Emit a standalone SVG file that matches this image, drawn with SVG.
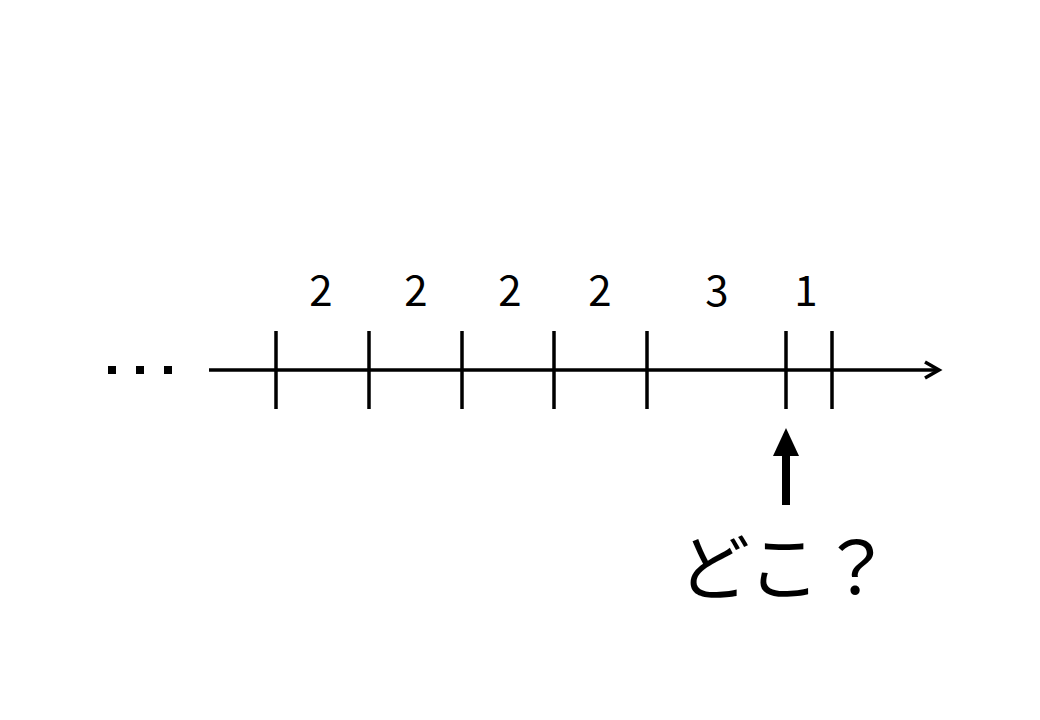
<svg xmlns="http://www.w3.org/2000/svg" width="1040" height="720" viewBox="0 0 1040 720">
<style>
.ln{stroke:#000;stroke-width:3.5;fill:none}
.num{font-family:"Noto Sans CJK JP","Noto Sans",sans-serif;font-size:42px;fill:#000;text-anchor:middle}
.q{font-family:"Noto Sans CJK JP","Noto Sans",sans-serif;font-size:72px;fill:#000;text-anchor:middle}
</style>
<defs>
<marker id="open" viewBox="0 0 20 20" refX="16" refY="10" markerWidth="20" markerHeight="20" markerUnits="userSpaceOnUse" orient="auto">
<path d="M2,2 L16,10 L2,18" fill="none" stroke="#000" stroke-width="3.5"/>
</marker>
</defs>
<rect width="1040" height="720" fill="#fff"/>
<g id="dots" fill="#000">
<rect x="108" y="366" width="8" height="8"/>
<rect x="136" y="366" width="8" height="8"/>
<rect x="164" y="366" width="8" height="8"/>
</g>
<g id="connectors">
<line class="ln" x1="209" y1="370" x2="939" y2="370" marker-end="url(#open)"/>
<path d="M786,505 L786,455" stroke="#000" stroke-width="8" fill="none"/>
<polygon points="786,428 799,456 773,456" fill="#000"/>
</g>
<g id="ticks" class="ln">
<line x1="276" y1="331" x2="276" y2="409"/>
<line x1="369" y1="331" x2="369" y2="409"/>
<line x1="462" y1="331" x2="462" y2="409"/>
<line x1="554" y1="331" x2="554" y2="409"/>
<line x1="647" y1="331" x2="647" y2="409"/>
<line x1="786" y1="331" x2="786" y2="409"/>
<line x1="832" y1="331" x2="832" y2="409"/>
</g>
<g id="labels">
<text class="num" x="321" y="306">2</text>
<text class="num" x="416" y="306">2</text>
<text class="num" x="510" y="306">2</text>
<text class="num" x="600" y="306">2</text>
<text class="num" x="717" y="306">3</text>
<text class="num" x="806" y="306">1</text>
</g>
<g id="question">
<text class="q" x="785" y="594">どこ？</text>
</g>
</svg>
